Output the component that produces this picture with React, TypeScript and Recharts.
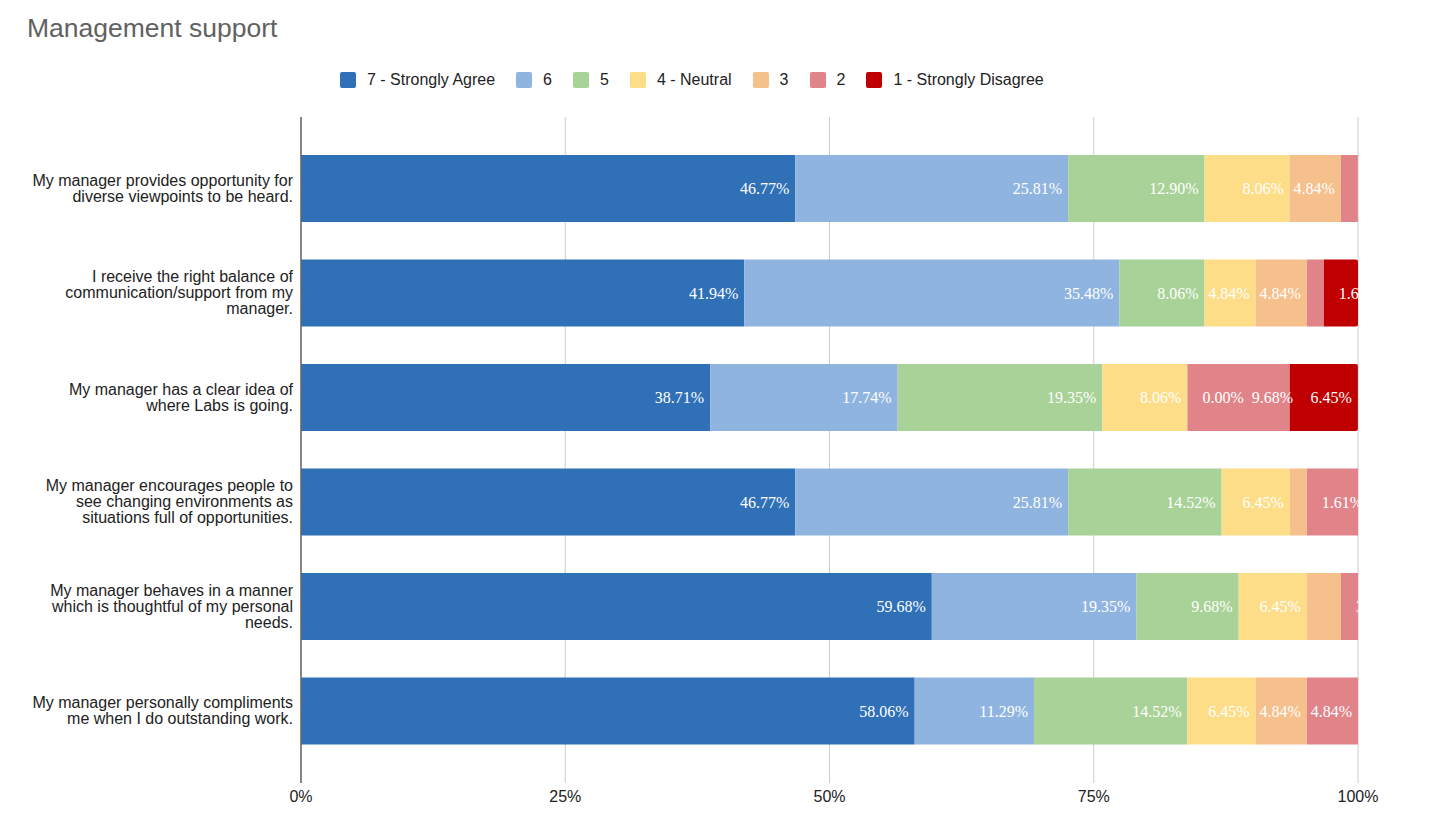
import React from "react";
import { BarChart, Bar, XAxis, YAxis, CartesianGrid, LabelList } from "recharts";

const categories = [
  "My manager provides opportunity for\ndiverse viewpoints to be heard.",
  "I receive the right balance of\ncommunication/support from my\nmanager.",
  "My manager has a clear idea of\nwhere Labs is going.",
  "My manager encourages people to\nsee changing environments as\nsituations full of opportunities.",
  "My manager behaves in a manner\nwhich is thoughtful of my personal\nneeds.",
  "My manager personally compliments\nme when I do outstanding work.",
];

const seriesNames = ["7 - Strongly Agree", "6", "5", "4 - Neutral", "3", "2", "1 - Strongly Disagree"];
const s7 = [46.77, 41.94, 38.71, 46.77, 59.68, 58.06];
const s6 = [25.81, 35.48, 17.74, 25.81, 19.35, 11.29];
const s5 = [12.9, 8.06, 19.35, 14.52, 9.68, 14.52];
const s4 = [8.06, 4.84, 8.06, 6.45, 6.45, 6.45];
const s3 = [4.84, 4.84, 0.0, 1.61, 3.23, 4.84];
const s2 = [1.61, 1.61, 9.68, 4.84, 1.61, 4.84];
const s1 = [0, 3.23, 6.45, 0, 0, 0];
const xTicks = [0, 25, 50, 75, 100];

const colors = ["#3070b7", "#8fb4e0", "#a8d297", "#fedd88", "#f5c08c", "#e0848a", "#c00000"];
const values = [s7, s6, s5, s4, s3, s2, s1];
const keys = ["s7", "s6", "s5", "s4", "s3", "s2", "s1"];

const data = categories.map((name, i) => {
  const row: Record<string, any> = { name };
  keys.forEach((k, si) => (row[k] = values[si][i]));
  return row;
});

const W = 1429;
const H = 833;
const PLOT_L = 301;
const PLOT_R = 1358;
const K = (PLOT_R - PLOT_L) / 100;
const LABEL_FONT = "16px 'Liberation Serif', 'Times New Roman', serif";
const SANS = "'Liberation Sans', Arial, sans-serif";

const fmt = (v: number) => `${v.toFixed(2)}%`;

let ctx: CanvasRenderingContext2D | null = null;
function measure(text: string) {
  if (!ctx) ctx = document.createElement("canvas").getContext("2d");
  if (!ctx) return text.length * 8;
  ctx.font = LABEL_FONT;
  return ctx.measureText(text).width;
}

// place labels like sheets does: right aligned inside, else pushed past the segment
function rowLayout(r: number) {
  const lefts: number[] = [];
  let cum = 0;
  let prevRight: number | null = null;
  values.forEach((vals) => {
    const v = vals[r];
    const start = PLOT_L + cum * K;
    const end = start + v * K;
    cum += v;
    const w = measure(fmt(v));
    let left = w + 6 <= end - start ? end - 6 - w : end + 15;
    if (prevRight !== null && left < prevRight + 8) left = prevRight + 8;
    prevRight = left + w;
    lefts.push(left);
  });
  return lefts;
}

// all labels of a row are drawn from the first series (zero-width bars get no label slot)
const RowLabels = (props: any) => {
  const { y, height, index } = props;
  const lefts = rowLayout(index);
  const cy = Number(y) + Number(height) / 2;
  const id = `lbl-clip-${index}`;
  return (
    <g key={id}>
      <defs>
        <clipPath id={id}>
          <rect x={PLOT_L} y={y} width={PLOT_R - PLOT_L} height={height} />
        </clipPath>
      </defs>
      <g clipPath={`url(#${id})`}>
        {values.map((vals, si) =>
          lefts[si] >= PLOT_R - 1 ? null : (
            <text
              key={si}
              x={lefts[si]}
              y={cy}
              dy="0.35em"
              fill="#fff"
              fontFamily="'Liberation Serif', 'Times New Roman', serif"
              fontSize={16}
            >
              {fmt(vals[index])}
            </text>
          )
        )}
      </g>
    </g>
  );
};

const YTick = (props: any) => {
  const { x, y, payload } = props;
  const lines = String(payload.value).split("\n");
  const lh = 16;
  const y0 = y - ((lines.length - 1) * lh) / 2;
  return (
    <text x={x} y={y0} textAnchor="end" fontFamily={SANS} fontSize={16} fill="#222">
      {lines.map((l, i) => (
        <tspan key={i} x={x} y={y0 + i * lh} dy="0.35em">
          {l}
        </tspan>
      ))}
    </text>
  );
};

const XTick = (props: any) => {
  const { x, y, payload } = props;
  return (
    <text x={x} y={y + 17} textAnchor="middle" fontFamily={SANS} fontSize={16} fill="#222">
      {`${payload.value}%`}
    </text>
  );
};

export default function App() {
  return (
    <div style={{ position: "absolute", left: 0, top: 0, width: W, height: H, background: "#fff" }}>
      <svg style={{ position: "absolute", left: 0, top: 0 }} width={400} height={50}>
        <text x={27} y={37} fontFamily={SANS} fontSize={26.5} fill="#616161">
          Management support
        </text>
      </svg>
      <div
        style={{
          position: "absolute",
          left: 340,
          top: 71,
          display: "flex",
          alignItems: "center",
          fontFamily: SANS,
          fontSize: 16,
          color: "#222",
          whiteSpace: "nowrap",
        }}
      >
        {seriesNames.map((n, i) => (
          <div key={n} style={{ display: "flex", alignItems: "center", marginRight: 21 }}>
            <div style={{ width: 16, height: 16, borderRadius: 2, background: colors[i], marginRight: 11 }} />
            <span>{n}</span>
          </div>
        ))}
      </div>
      <div style={{ position: "absolute", left: 0, top: 0 }}>
        <BarChart
          width={W}
          height={H}
          data={data}
          layout="vertical"
          margin={{ top: 117, right: W - PLOT_R, left: 0, bottom: 20 }}
          barSize={67}
        >
          <CartesianGrid horizontal={false} stroke="#ccc" />
          <XAxis
            type="number"
            domain={[0, 100]}
            ticks={xTicks}
            allowDataOverflow
            axisLine={false}
            tickLine={false}
            tickSize={0}
            height={30}
            tick={<XTick />}
          />
          <YAxis
            type="category"
            dataKey="name"
            width={PLOT_L}
            axisLine={{ stroke: "#666", strokeWidth: 1.5 }}
            tickLine={false}
            tickSize={0}
            tickMargin={8}
            padding={{ top: 19, bottom: 20 }}
            tick={<YTick />}
            interval={0}
          />
          {keys.map((k, si) => (
            <Bar
              key={k}
              dataKey={k}
              name={seriesNames[si]}
              stackId="a"
              fill={colors[si]}
              isAnimationActive={false}
              radius={si === keys.length - 1 ? [0, 2, 2, 0] : undefined}
            >
              {si === 0 && <LabelList dataKey={k} content={<RowLabels />} />}
            </Bar>
          ))}
        </BarChart>
      </div>
    </div>
  );
}
